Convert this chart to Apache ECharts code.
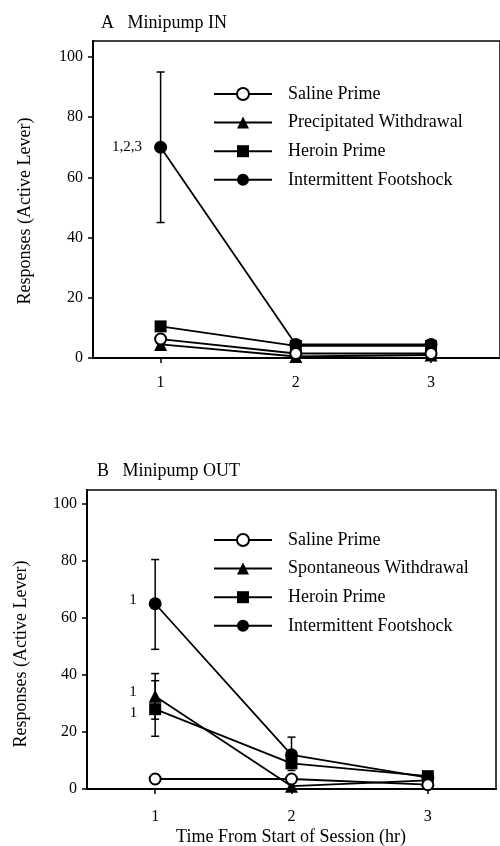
<!DOCTYPE html>
<html>
<head>
<meta charset="utf-8">
<script src="https://cdn.jsdelivr.net/npm/echarts@6/dist/echarts.min.js"></script>
<style>
html,body{margin:0;padding:0;background:#fff;}
#main{width:500px;height:846px;}
</style>
</head>
<body>
<div id="main"></div>
<script>
// ---- data ----
const hours = [1, 2, 3];
const yTicks = [0, 20, 40, 60, 80, 100];
const xTicks = [1, 2, 3];

// Panel A: Minipump IN
const aNames = ['Saline Prime', 'Precipitated Withdrawal', 'Heroin Prime', 'Intermittent Footshock'];
const aSaline = [6.3, 1.5, 1.5];
const aPrecip = [4.5, 0.5, 1.0];
const aHeroin = [10.5, 4.0, 4.0];
const aShock = [70, 4.5, 4.5];
const aShockLow = [45, null, null];
const aShockHigh = [95, null, null];
const aShockNote = ['1,2,3', '', ''];

// Panel B: Minipump OUT
const bNames = ['Saline Prime', 'Spontaneous Withdrawal', 'Heroin Prime', 'Intermittent Footshock'];
const bSaline = [3.5, 3.5, 1.5];
const bSpont = [32.5, 1.0, 3.0];
const bHeroin = [28, 9, 4.5];
const bShock = [65, 12, 4];
const bShockLow = [49, 6.5, null];
const bShockHigh = [80.5, 18.2, null];
const bSpontLow = [24.5, null, null];
const bSpontHigh = [40.5, null, null];
const bHeroinLow = [18.5, null, null];
const bHeroinHigh = [38, null, null];
const bShockNote = ['1', '', ''];
const bSpontNote = ['1', '', ''];
const bHeroinNote = ['1', '', ''];

// ---- helpers ----
const FONT = '"Liberation Serif", "Times New Roman", serif';

function pts(vals, notes, offY) {
  return hours.map((h, i) => {
    const item = { value: [h, vals[i]] };
    if (notes && notes[i]) {
      item.label = {
        show: true, formatter: notes[i], position: 'left', distance: 12,
        offset: [0, offY || 0],
        fontFamily: FONT, fontSize: 15, color: '#000'
      };
    }
    return item;
  });
}
function errs(lo, hi) {
  const out = [];
  hours.forEach((h, i) => { if (lo[i] != null) out.push([h, lo[i], hi[i]]); });
  return out;
}
function renderErr(params, api) {
  const x = api.value(0), lo = api.value(1), hi = api.value(2);
  const p1 = api.coord([x, hi]), p2 = api.coord([x, lo]);
  const w = 4;
  const st = { stroke: '#000', lineWidth: 1.5 };
  return {
    type: 'group', children: [
      { type: 'line', shape: { x1: p1[0], y1: p1[1], x2: p2[0], y2: p2[1] }, style: st },
      { type: 'line', shape: { x1: p1[0] - w, y1: p1[1], x2: p1[0] + w, y2: p1[1] }, style: st },
      { type: 'line', shape: { x1: p2[0] - w, y1: p2[1], x2: p2[0] + w, y2: p2[1] }, style: st }
    ]
  };
}
function lineSeries(name, grid, symbol, size, data) {
  return {
    type: 'line', name: name, xAxisIndex: grid, yAxisIndex: grid,
    data: data, symbol: symbol, symbolSize: size, showAllSymbol: true,
    lineStyle: { color: '#000', width: 1.8 },
    itemStyle: { color: '#000', borderColor: '#000', borderWidth: symbol === 'emptyCircle' ? 1.6 : 0 },
    emphasis: { disabled: true }, animation: false, z: 3
  };
}
function errSeries(grid, data) {
  return {
    type: 'custom', xAxisIndex: grid, yAxisIndex: grid, renderItem: renderErr,
    data: data, encode: { x: 0, y: [1, 2] }, z: 2, silent: true, animation: false
  };
}
function xAxisDef(grid, max, margin) {
  return {
    type: 'value', gridIndex: grid, min: 0.5, max: max,
    axisLine: { show: true, onZero: false, lineStyle: { color: '#000', width: 2 } },
    axisTick: { show: true, customValues: xTicks, length: 5, lineStyle: { color: '#000', width: 1.5 } },
    axisLabel: { customValues: xTicks, margin: margin, fontFamily: FONT, fontSize: 16, color: '#000' },
    splitLine: { show: false }
  };
}
function yAxisDef(grid, max) {
  return {
    type: 'value', gridIndex: grid, min: 0, max: max,
    axisLine: { show: true, lineStyle: { color: '#000', width: 2 } },
    axisTick: { show: true, customValues: yTicks, length: 5, lineStyle: { color: '#000', width: 1.5 } },
    axisLabel: { customValues: yTicks, margin: 10, fontFamily: FONT, fontSize: 16, color: '#000' },
    splitLine: { show: false }
  };
}
function legendDef(top, names) {
  return {
    orient: 'vertical', left: 213, top: top, padding: 0,
    itemWidth: 58, itemHeight: 15, itemGap: 10.6,
    data: names, selectedMode: false,
    textStyle: { fontFamily: FONT, fontSize: 18, color: '#000', padding: [0, 0, 0, 11] }
  };
}

const chart = echarts.init(document.getElementById('main'), null, { renderer: 'canvas' });
chart.setOption({
  backgroundColor: '#fff',
  animation: false,
  grid: [
    { left: 93, top: 41, width: 408, height: 317, show: true, borderColor: '#000', borderWidth: 1.5 },
    { left: 87, top: 490, width: 409, height: 299, show: true, borderColor: '#000', borderWidth: 1.5 }
  ],
  xAxis: [xAxisDef(0, 3.51, 17), xAxisDef(1, 3.5, 20)],
  yAxis: [yAxisDef(0, 105.3), yAxisDef(1, 104.9)],
  legend: [legendDef(85, aNames), legendDef(531, bNames)],
  graphic: [
    { type: 'text', left: 101, top: 14, style: { text: 'A   Minipump IN', font: '18px ' + FONT, fill: '#000' } },
    { type: 'text', left: 97, top: 462, style: { text: 'B   Minipump OUT', font: '18px ' + FONT, fill: '#000' } },
    { type: 'text', x: 25, y: 211, rotation: Math.PI / 2,
      style: { text: 'Responses (Active Lever)', font: '18px ' + FONT, fill: '#000', align: 'center', verticalAlign: 'middle' } },
    { type: 'text', x: 21, y: 654, rotation: Math.PI / 2,
      style: { text: 'Responses (Active Lever)', font: '18px ' + FONT, fill: '#000', align: 'center', verticalAlign: 'middle' } },
    { type: 'text', x: 291, y: 837,
      style: { text: 'Time From Start of Session (hr)', font: '18px ' + FONT, fill: '#000', align: 'center', verticalAlign: 'middle' } }
  ],
  series: [
    errSeries(0, errs(aShockLow, aShockHigh)),
    lineSeries(aNames[3], 0, 'circle', 13, pts(aShock, aShockNote, 0)),
    lineSeries(aNames[2], 0, 'rect', 12, pts(aHeroin)),
    lineSeries(aNames[1], 0, 'triangle', 13, pts(aPrecip)),
    lineSeries(aNames[0], 0, 'emptyCircle', 11, pts(aSaline)),

    errSeries(1, errs(bShockLow, bShockHigh)),
    errSeries(1, errs(bSpontLow, bSpontHigh)),
    errSeries(1, errs(bHeroinLow, bHeroinHigh)),
    lineSeries(bNames[3], 1, 'circle', 13, pts(bShock, bShockNote, -4)),
    lineSeries(bNames[2], 1, 'rect', 12, pts(bHeroin, bHeroinNote, 4)),
    lineSeries(bNames[1], 1, 'triangle', 13, pts(bSpont, bSpontNote, -4)),
    lineSeries(bNames[0], 1, 'emptyCircle', 11, pts(bSaline))
  ]
});
</script>
</body>
</html>
